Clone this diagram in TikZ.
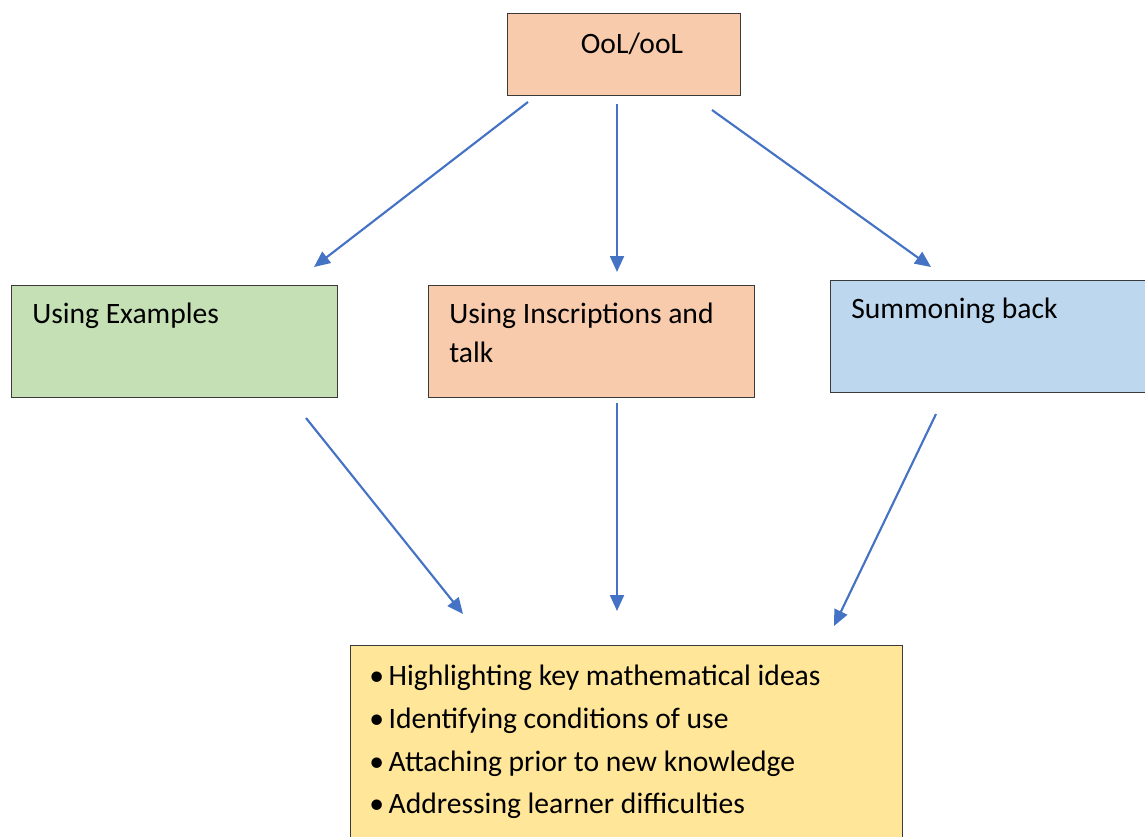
\documentclass[tikz,border=0pt]{standalone}
\usepackage{fontspec}
\setmainfont{Carlito}
\usetikzlibrary{arrows.meta}

\definecolor{peach}{HTML}{F8CBAD}
\definecolor{sage}{HTML}{C5E0B4}
\definecolor{sky}{HTML}{BDD7EE}
\definecolor{butter}{HTML}{FFE699}
\definecolor{linkblue}{HTML}{4472C4}
\definecolor{edge}{HTML}{3A3A3A}

\tikzset{
  box/.style={draw=edge, line width=1pt, rectangle, inner sep=0pt},
  label/.style={inner sep=0pt, anchor=base west, font=\fontsize{22.2}{32}\selectfont},
  link/.style={draw=linkblue, line width=1.6pt,
    -{Triangle[length=12pt,width=10.5pt]}},
}

\begin{document}
\begin{tikzpicture}[x=0.75pt,y=-0.75pt]
\useasboundingbox (0,0) rectangle (1145,836);

% boxes
\node[box, fill=peach, minimum width=233*0.75pt, minimum height=82*0.75pt, anchor=north west] (ool) at (507,13) {};
\node[box, fill=sage, minimum width=326*0.75pt, minimum height=112*0.75pt, anchor=north west] (ex) at (11,285) {};
\node[box, fill=peach, minimum width=326*0.75pt, minimum height=112*0.75pt, anchor=north west] (ins) at (428,285) {};
\node[box, fill=sky, minimum width=322*0.75pt, minimum height=112*0.75pt, anchor=north west] (sum) at (830,280) {};
\node[box, fill=butter, minimum width=552*0.75pt, minimum height=200*0.75pt, anchor=north west] (out) at (350,645) {};

% texts
\node[label, anchor=base] (oolt) at (632,53) {OoL/ooL};
\node[label] (ext) at (32,323) {Using Examples};
\node[label] (inst1) at (449,323) {Using Inscriptions and};
\node[label] (inst2) at (449,362) {talk};
\node[label] (sumt) at (851,318) {Summoning back};
\node[label] (o1) at (369,685) {\textbullet\kern3.5pt Highlighting key mathematical ideas};
\node[label] (o2) at (369,728) {\textbullet\kern3.5pt Identifying conditions of use};
\node[label] (o3) at (369,771) {\textbullet\kern3.5pt Attaching prior to new knowledge};
\node[label] (o4) at (369,813) {\textbullet\kern3.5pt Addressing learner difficulties};

% arrow ends
\coordinate (a1s) at (528,102);  \coordinate (a1e) at (314,267);
\coordinate (a2s) at (617,104);  \coordinate (a2e) at (617,272);
\coordinate (a3s) at (712,110);  \coordinate (a3e) at (931,267);
\coordinate (b1s) at (306,418);  \coordinate (b1e) at (463,614);
\coordinate (b2s) at (617,403);  \coordinate (b2e) at (617,611);
\coordinate (b3s) at (936,414);  \coordinate (b3e) at (834,626);

\draw[link] (a1s) -- (a1e);
\draw[link] (a2s) -- (a2e);
\draw[link] (a3s) -- (a3e);
\draw[link] (b1s) -- (b1e);
\draw[link] (b2s) -- (b2e);
\draw[link] (b3s) -- (b3e);
\end{tikzpicture}
\end{document}
